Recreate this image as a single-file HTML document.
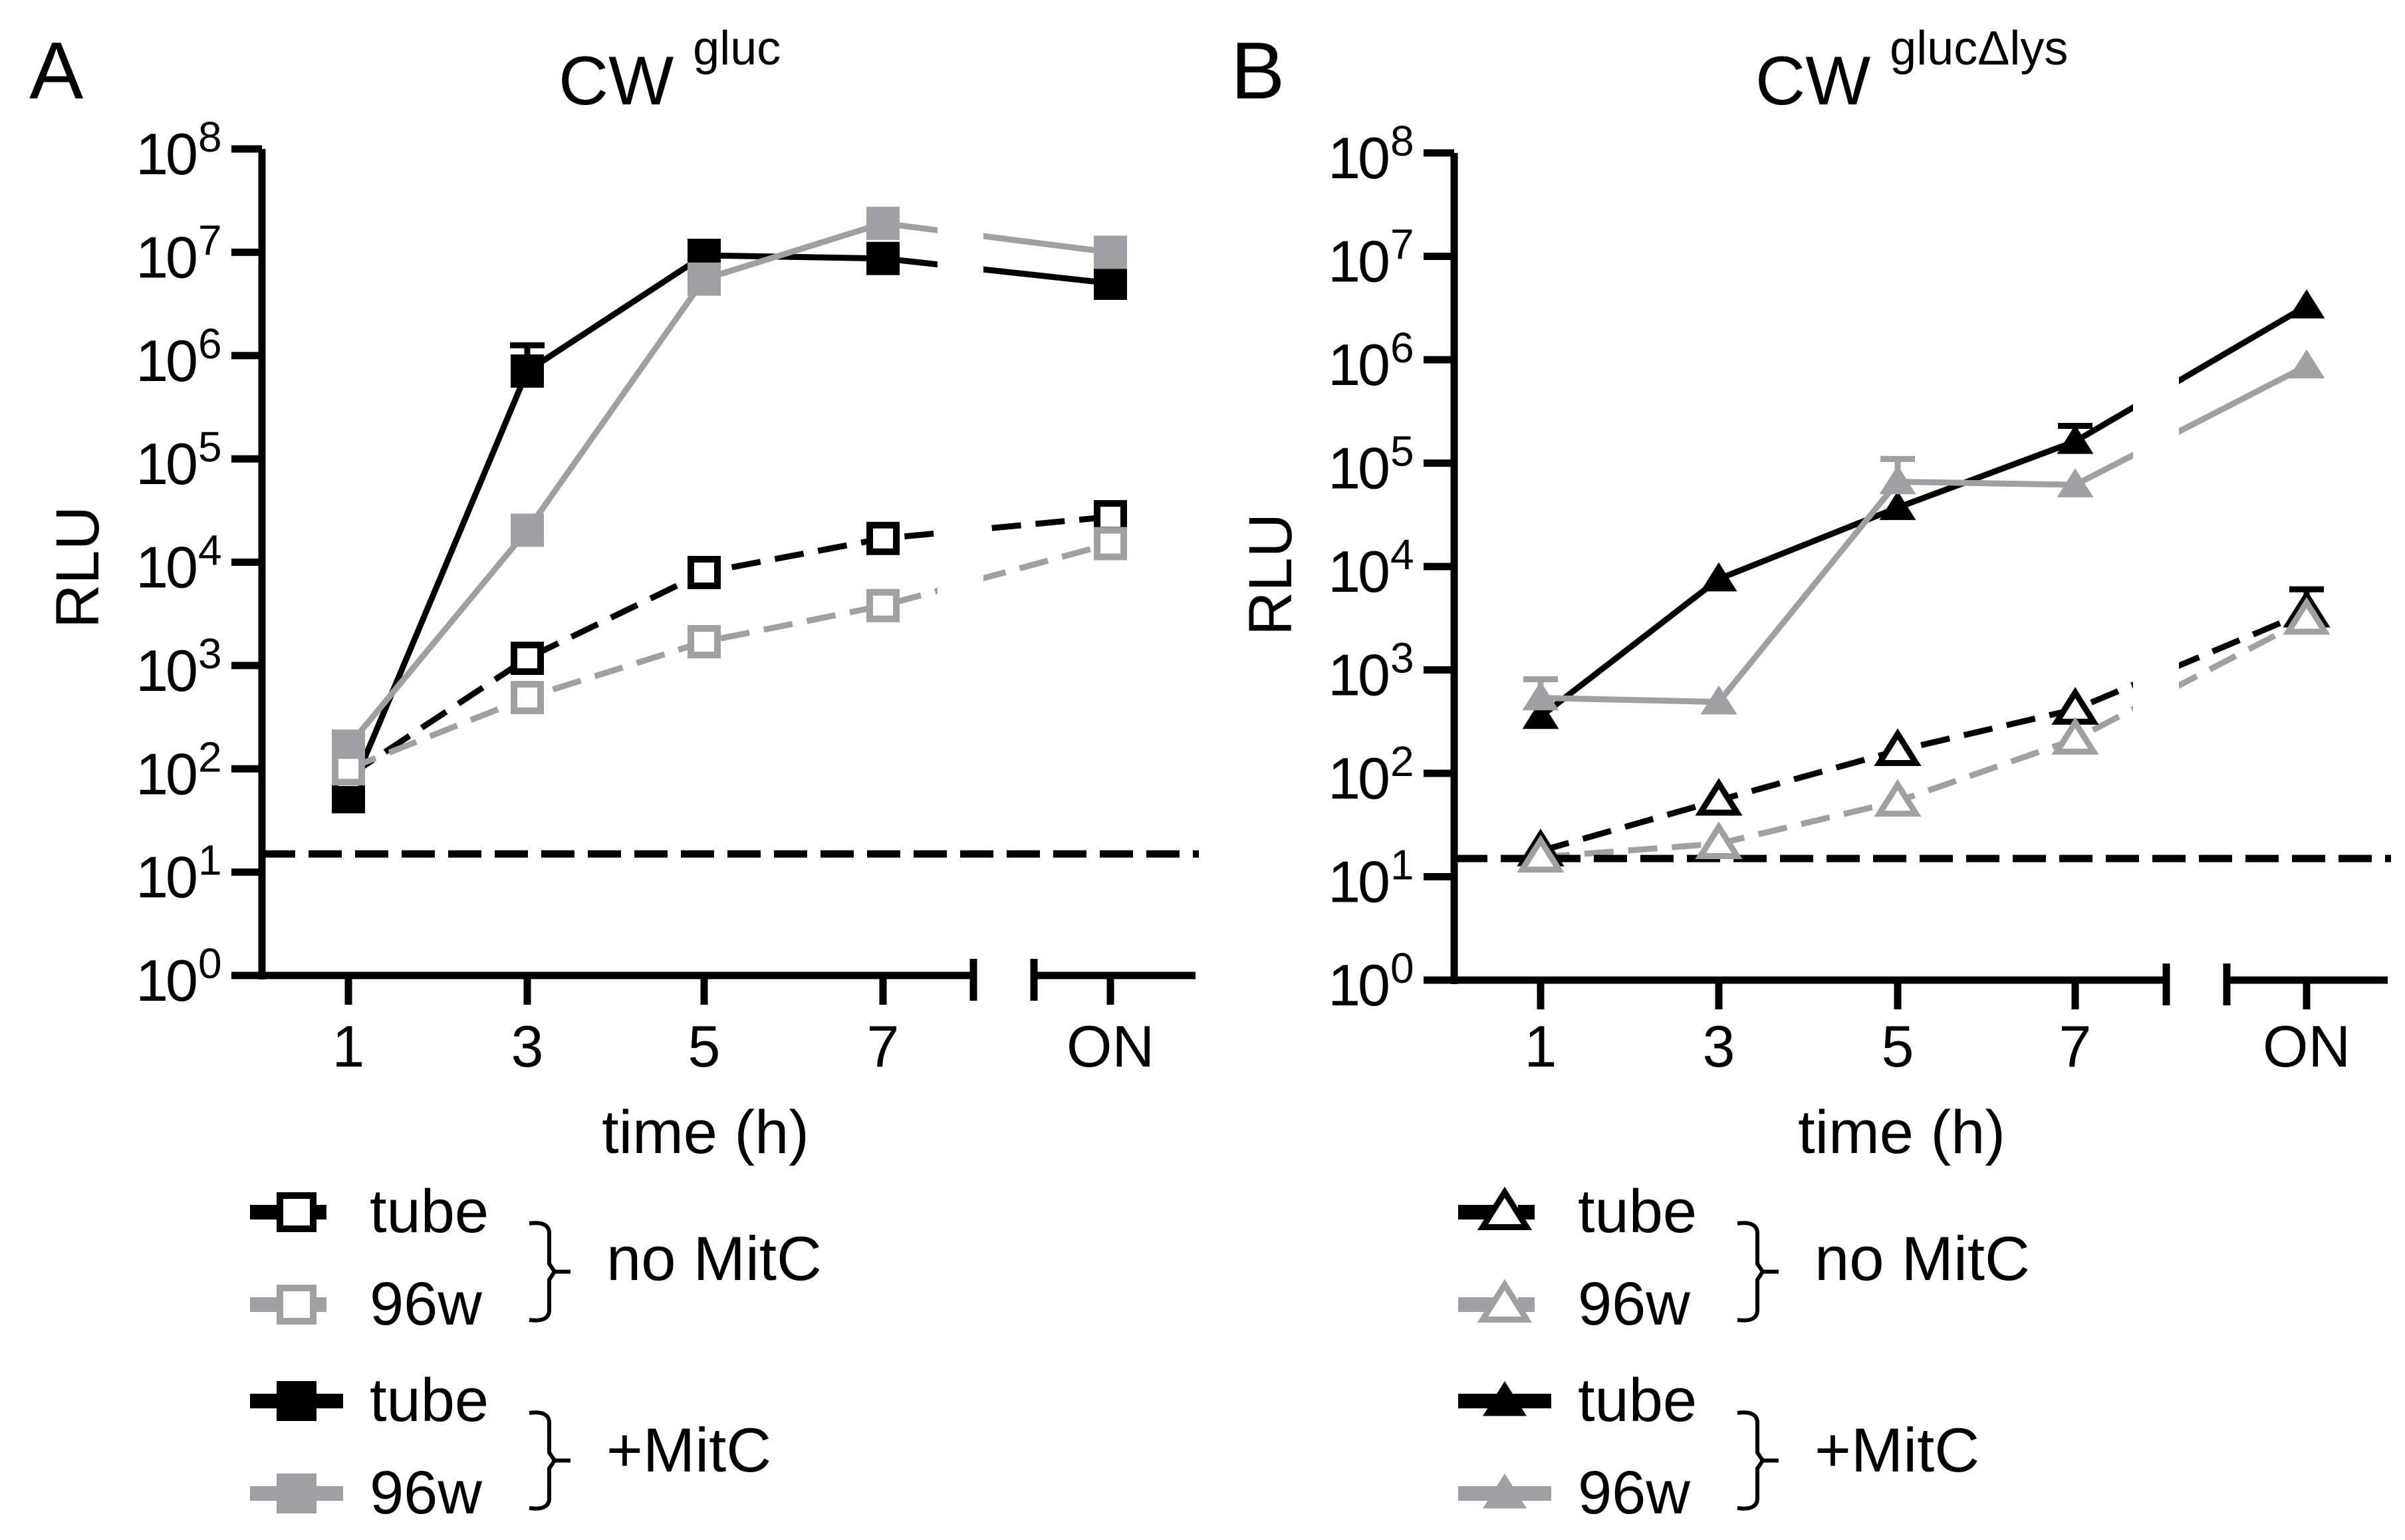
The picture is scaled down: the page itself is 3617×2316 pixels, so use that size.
<!DOCTYPE html>
<html><head><meta charset="utf-8">
<style>
html,body{margin:0;padding:0;background:#fff;}
svg{display:block;font-family:"Liberation Sans",Arial,sans-serif;}
</style></head>
<body>
<svg id="fig" width="3617" height="2316" viewBox="0 0 3617 2316" xmlns="http://www.w3.org/2000/svg">
<rect width="3617" height="2316" fill="#fff"/>
</svg>
<script>
// ---- data ----
const categories = ["1","3","5","7","ON"];
const yTickExponents = [0,1,2,3,4,5,6,7,8];
const detectionLimit = 15;
// panel A (log10 RLU)
const aTubeMitC = [1.73,5.85,6.97,6.94,6.70];
const aTubeMitCErr = [0,0.25,0,0,0];
const a96wMitC = [2.22,4.31,6.74,7.28,7.00];
const aTubeNo = [1.93,3.07,3.90,4.23,4.44];
const a96wNo = [2.00,2.69,3.23,3.58,4.18];
// panel B (log10 RLU)
const bTubeMitC = [2.55,3.88,4.57,5.21,6.52];
const bTubeMitCErr = [0,0,0,0.15,0];
const b96wMitC = [2.73,2.69,4.82,4.79,5.94];
const b96wMitCErr = [0.18,0,0.22,0,0];
const bTubeNo = [1.25,1.74,2.22,2.62,3.56];
const bTubeNoErr = [0,0,0,0,0.22];
const b96wNo = [1.19,1.32,1.73,2.33,3.49];

const NS="http://www.w3.org/2000/svg";
const svg=document.getElementById('fig');
const BLACK="#000", GRAY="#a0a0a4";
function mk(tag,attrs,parent){const e=document.createElementNS(NS,tag);for(const k in attrs)e.setAttribute(k,attrs[k]);(parent||svg).appendChild(e);return e;}

function panel(cfg){
  const g=mk('g',{});
  
  
  const X=i=>cfg.xs[i];
  const Y=v=>cfg.y0-(v/8)*(cfg.y0-cfg.y8);
  const L=mk('text',{x:cfg.letterX,y:148,'font-size':122},g);L.textContent=cfg.letter;
  
  const T=mk('text',{x:cfg.titleX,y:157,'font-size':104},g);
  
  const t1=mk('tspan',{},T);t1.textContent="CW ";
  const t2=mk('tspan',{'font-size':72,dy:-60},T);t2.textContent=cfg.sup;
  cfg.series.forEach(s=>{
    const pts=s.vals.map((v,i)=>X(i)+','+Y(v)).join(' ');
    const pl=mk('polyline',{points:pts,fill:'none',stroke:s.color,'stroke-width':9,'stroke-dasharray':s.dash?'44,22':'none'},g);
    
    
  });
  const gap=mk('rect',{x:cfg.gapX0,y:cfg.y8-60,width:cfg.gapX1-cfg.gapX0,height:cfg.y0-cfg.y8,fill:'#fff'},g);
  
  const ly=Y(Math.log10(detectionLimit));
  const dl=mk('line',{x1:cfg.ax,y1:ly,x2:cfg.x2end+5,y2:ly,stroke:BLACK,'stroke-width':11,'stroke-dasharray':'50,20'},g);
  
  cfg.series.forEach(s=>{
    if(!s.err)return;
    s.err.forEach((e,i)=>{
      if(!e)return;
      const x=X(i),ya=Y(s.vals[i]),yb=Y(s.vals[i]+e);
      const eb=mk('path',{d:`M${x},${ya}V${yb}M${x-26},${yb}H${x+26}`,stroke:s.color,'stroke-width':9,fill:'none'},g);
      
    });
  });
  cfg.series.forEach(s=>{
    s.vals.forEach((v,i)=>{
      const m=marker(g,cfg.shape,X(i),Y(v),s.color,s.open,50);
      
      
    });
  });
  const ya=mk('line',{x1:cfg.ax,y1:cfg.y8,x2:cfg.ax,y2:cfg.y0+6,stroke:BLACK,'stroke-width':11},g);
  
  const xa1=mk('path',{d:`M${cfg.ax-5},${cfg.y0}H${cfg.brk1}M${cfg.brk1},${cfg.y0-25}V${cfg.y0+38}`,stroke:BLACK,'stroke-width':11,fill:'none'},g);
  
  const xa2=mk('path',{d:`M${cfg.brk2},${cfg.y0-25}V${cfg.y0+38}M${cfg.brk2},${cfg.y0}H${cfg.x2end}`,stroke:BLACK,'stroke-width':11,fill:'none'},g);
  
  yTickExponents.forEach(e=>{
    const y=Y(e);
    const tk=mk('line',{x1:cfg.ax-46,y1:y,x2:cfg.ax,y2:y,stroke:BLACK,'stroke-width':11},g);
    
    const tx=mk('text',{x:cfg.ax-100,y:y+38,'font-size':88,'text-anchor':'end','letter-spacing':-4},g);
    tx.textContent="10";
    
    const sp=mk('text',{x:cfg.ax-96,y:y+4,'font-size':64},g);
    sp.textContent=String(e);
    
  });
  categories.forEach((c,i)=>{
    const tk=mk('line',{x1:X(i),y1:cfg.y0,x2:X(i),y2:cfg.y0+44,stroke:BLACK,'stroke-width':11},g);
    
    const tx=mk('text',{x:X(i),y:1604,'font-size':88,'text-anchor':'middle'},g);
    tx.textContent=c;
    
  });
  const xt=mk('text',{x:cfg.xTitleX,y:1734,'font-size':92,'text-anchor':'middle'},g);
  xt.textContent="time (h)";
  
  const yt=mk('text',{x:0,y:0,'font-size':92,'text-anchor':'middle',transform:`translate(${cfg.rluX},${cfg.rluY}) rotate(-90)`},g);
  yt.textContent="RLU";
  
  const lg=mk('g',{},g);
  
  const rows=[[1823,cfg.series[2],'tube'],[1962,cfg.series[3],'96w'],[2107,cfg.series[0],'tube'],[2246,cfg.series[1],'96w']];
  rows.forEach(r=>{
    const [y,s,lab]=r;
    const ln=mk('line',{x1:cfg.legX,y1:y,x2:cfg.legX+140,y2:y,stroke:s.color,'stroke-width':22,'stroke-dasharray':s.dash?'75,15,25':'none'},lg);
    
    const m=marker(lg,cfg.shape,cfg.legX+70,y,s.color,s.open,60);
    
    const tx=mk('text',{x:cfg.legX+180,y:y+30,'font-size':92},lg);
    tx.textContent=lab;
    
  });
  [[1840,1985,"no MitC",1893],[2125,2268,"+MitC",2181]].forEach(b=>{
    const bx=cfg.legX+420, mid=(b[0]+b[1])/2;
    const br=mk('path',{d:`M${bx},${b[0]} Q${bx+30},${b[0]-4} ${bx+30},${b[0]+15} V${mid-12} L${bx+38},${mid} L${bx+30},${mid+12} V${b[1]-15} Q${bx+30},${b[1]+4} ${bx},${b[1]} M${bx+38},${mid} H${bx+62}`,stroke:BLACK,'stroke-width':6,fill:'none'},lg);
    
    const tx=mk('text',{x:cfg.legX+536,y:b[3]+32,'font-size':94},lg);
    tx.textContent=b[2];
    
  });
}
function marker(parent,shape,x,y,color,open,sz){
  const h=sz/2;
  if(shape==='square'){
    return open?mk('rect',{x:x-h+5,y:y-h+5,width:sz-10,height:sz-10,fill:'#fff',stroke:color,'stroke-width':10},parent)
               :mk('rect',{x:x-h,y:y-h,width:sz,height:sz,fill:color},parent);
  } else {
    const hh=sz*0.5;
    const d=`M${x},${y-hh} L${x+hh*1.1},${y+hh*0.75} L${x-hh*1.1},${y+hh*0.75}Z`;
    return open?mk('path',{d:d,fill:'#fff',stroke:color,'stroke-width':9,'stroke-linejoin':'miter'},parent)
               :mk('path',{d:d,fill:color},parent);
  }
}
panel({name:'panel-a',letter:'A',letterX:44,titleX:840,sup:'gluc',shape:'square',
  xs:[524,793,1059,1328,1670],ax:394,y0:1467,y8:224,brk1:1464,brk2:1555,x2end:1798,gapX0:1410,gapX1:1479,
  xTitleX:1061,rluX:148,rluY:853,legX:376,
  series:[{id:'tube-mitc',vals:aTubeMitC,err:aTubeMitCErr,color:BLACK,open:false,dash:false},
          {id:'96w-mitc',vals:a96wMitC,color:GRAY,open:false,dash:false},
          {id:'tube-no-mitc',vals:aTubeNo,color:BLACK,open:true,dash:true},
          {id:'96w-no-mitc',vals:a96wNo,color:GRAY,open:true,dash:true}]});
panel({name:'panel-b',letter:'B',letterX:1851,titleX:2640,sup:'gluc\u0394lys',shape:'tri',
  xs:[2317,2585,2854,3121,3469],ax:2187,y0:1474,y8:230,brk1:3258,brk2:3349,x2end:3591,gapX0:3208,gapX1:3277,
  xTitleX:2860,rluX:1942,rluY:864,legX:2193,
  series:[{id:'tube-mitc',vals:bTubeMitC,err:bTubeMitCErr,color:BLACK,open:false,dash:false},
          {id:'96w-mitc',vals:b96wMitC,err:b96wMitCErr,color:GRAY,open:false,dash:false},
          {id:'tube-no-mitc',vals:bTubeNo,err:bTubeNoErr,color:BLACK,open:true,dash:true},
          {id:'96w-no-mitc',vals:b96wNo,color:GRAY,open:true,dash:true}]});
</script>
</body></html>
